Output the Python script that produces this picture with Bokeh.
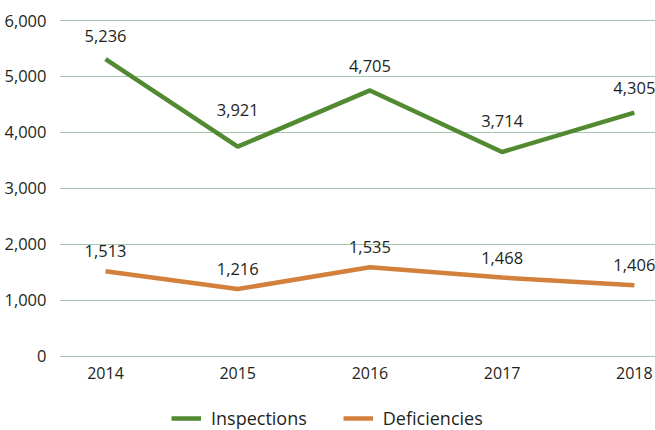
from bokeh.plotting import figure
from bokeh.models import Range1d, FixedTicker, Legend, LegendItem, ColumnDataSource, NumeralTickFormatter
from bokeh.core.properties import value
from bokeh.embed import file_html
from bokeh.resources import INLINE

years = ["2014", "2015", "2016", "2017", "2018"]
inspections_line = [5310, 3745, 4750, 3650, 4355]
deficiencies_line = [1520, 1200, 1590, 1405, 1270]
inspections_labels = [5236, 3921, 4705, 3714, 4305]
deficiencies_labels = [1513, 1216, 1535, 1468, 1406]
y_ticks = [0, 1000, 2000, 3000, 4000, 5000, 6000]

GREEN = "#528a32"
ORANGE = "#d3803c"
TEXT = "#231f20"
FONT = "Open Sans"

xs = list(range(len(years)))

p = figure(output_backend="svg", toolbar_location=None,
           width=655, height=430,
           frame_width=596, frame_height=411,
           min_border_left=59, min_border_top=19, min_border_right=0, min_border_bottom=0,
           x_range=Range1d(-0.348, 4.16), y_range=Range1d(-1328, 6018))
p.outline_line_color = None
p.background_fill_color = "white"
p.border_fill_color = "white"

p.xgrid.grid_line_color = None
p.ygrid.grid_line_color = "#a3c8b2"
p.ygrid.grid_line_width = 1
p.ygrid.ticker = FixedTicker(ticks=y_ticks)

p.yaxis.ticker = FixedTicker(ticks=y_ticks)
p.yaxis.formatter = NumeralTickFormatter(format="0,0")
p.yaxis.axis_line_color = None
p.yaxis.major_tick_line_color = None
p.yaxis.minor_tick_line_color = None
p.yaxis.major_label_standoff = 7
p.yaxis.major_label_text_font = FONT
p.yaxis.major_label_text_font_size = "16.5px"
p.yaxis.major_label_text_color = TEXT

p.xaxis.fixed_location = 0
p.xaxis.ticker = FixedTicker(ticks=xs)
p.xaxis.major_label_overrides = {i: y for i, y in enumerate(years)}
p.xaxis.axis_line_color = None
p.xaxis.major_tick_line_color = None
p.xaxis.minor_tick_line_color = None
p.xaxis.major_label_standoff = 5
p.xaxis.major_label_text_font = FONT
p.xaxis.major_label_text_font_size = "16px"
p.xaxis.major_label_text_color = TEXT

r1 = p.line(xs, inspections_line, line_color=GREEN, line_width=4.5)
r2 = p.line(xs, deficiencies_line, line_color=ORANGE, line_width=4.5)

src_i = ColumnDataSource(dict(x=xs, y=inspections_labels,
                              t=[f"{v:,}" for v in inspections_labels]))
src_d = ColumnDataSource(dict(x=xs, y=deficiencies_line,
                              t=[f"{v:,}" for v in deficiencies_labels]))
p.text(x="x", y="y", text="t", source=src_i, text_align="center", text_baseline="middle",
       y_offset=-27, text_font=value(FONT), text_font_size="16.5px", text_color=TEXT)
p.text(x="x", y="y", text="t", source=src_d, text_align="center", text_baseline="middle",
       y_offset=-20, text_font=value(FONT), text_font_size="16.5px", text_color=TEXT)

legend = Legend(items=[LegendItem(label="Inspections", renderers=[r1]),
                       LegendItem(label="Deficiencies", renderers=[r2])],
                location=(112, 0), orientation="horizontal",
                border_line_color=None, background_fill_alpha=0,
                padding=0, margin=0, spacing=36, label_standoff=10,
                glyph_width=30, glyph_height=20, label_height=20,
                label_text_font=FONT, label_text_font_size="18px", label_text_color=TEXT)
p.add_layout(legend, "center")

open("out.html", "w").write(file_html(p, INLINE))
